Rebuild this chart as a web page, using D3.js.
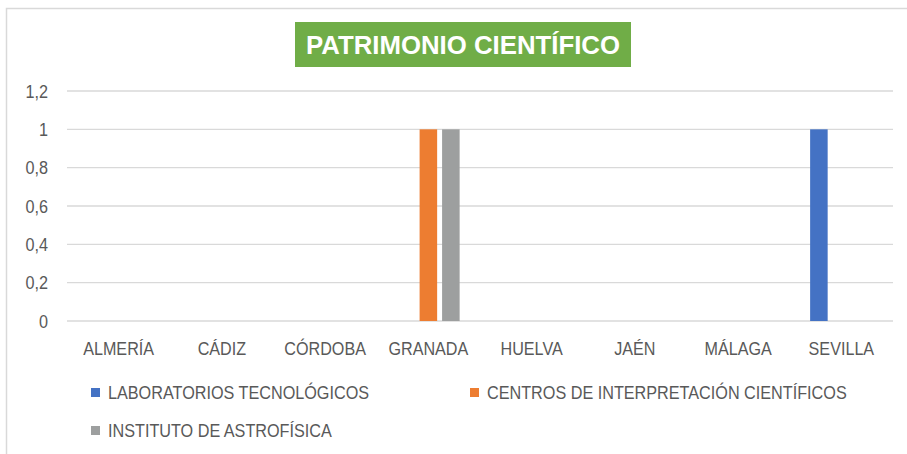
<!DOCTYPE html>
<html>
<head>
<meta charset="utf-8">
<script src="https://cdn.jsdelivr.net/npm/d3@7"></script>
<style>
  body { margin: 0; background: #fff; }
  svg { display: block; }
</style>
</head>
<body>
<svg id="chart"></svg>
<script>
// chart data
const title = "PATRIMONIO CIENTÍFICO";
const provincias = ["ALMERÍA", "CÁDIZ", "CÓRDOBA", "GRANADA", "HUELVA", "JAÉN", "MÁLAGA", "SEVILLA"];
const laboratorios = [0, 0, 0, 0, 0, 0, 0, 1];
const centros = [0, 0, 0, 1, 0, 0, 0, 0];
const instituto = [0, 0, 0, 1, 0, 0, 0, 0];
const seriesNames = ["LABORATORIOS TECNOLÓGICOS", "CENTROS DE INTERPRETACIÓN CIENTÍFICOS", "INSTITUTO DE ASTROFÍSICA"];
const seriesColors = ["#4472C4", "#ED7D31", "#9D9F9F"];
const yTicks = [0, 0.2, 0.4, 0.6, 0.8, 1, 1.2];

const W = 907, H = 454;
const margin = { top: 91, right: 14, bottom: 133, left: 67 };
const font = "'Liberation Sans', Arial, sans-serif";
const textColor = "#595959";

// squeeze text horizontally so it looks like the narrow Calibri of the original
function condense(sel, k) {
  sel.each(function() {
    const len = this.getComputedTextLength();
    d3.select(this).attr("textLength", len * k).attr("lengthAdjust", "spacingAndGlyphs");
  });
}

const svg = d3.select("#chart").attr("width", W).attr("height", H);

// outer frame
svg.append("rect")
    .attr("x", 6.5).attr("y", 8.5)
    .attr("width", W).attr("height", H)
    .attr("fill", "none")
    .attr("stroke", "#d9d9d9")
    .attr("stroke-width", 1.5);

// title box
const titleG = svg.append("g");
titleG.append("rect")
    .attr("x", 295).attr("y", 22)
    .attr("width", 336).attr("height", 45)
    .attr("fill", "#70AD47");
titleG.append("text")
    .attr("x", 463).attr("y", 54)
    .attr("text-anchor", "middle")
    .attr("font-family", font)
    .attr("font-weight", "bold")
    .attr("font-size", 25)
    .attr("textLength", 314)
    .attr("lengthAdjust", "spacingAndGlyphs")
    .attr("fill", "#fff")
    .text(title);

const x0 = d3.scaleBand()
    .domain(provincias)
    .range([margin.left, W - margin.right])
    .padding(0);

const x1 = d3.scaleBand()
    .domain(seriesNames)
    .range([0, 62.5])
    .paddingInner(0.22);

const y = d3.scaleLinear()
    .domain([0, 1.2])
    .range([H - margin.bottom, margin.top]);

// gridlines
svg.append("g")
    .selectAll("line")
    .data(yTicks)
    .join("line")
    .attr("x1", margin.left).attr("x2", W - margin.right)
    .attr("y1", d => y(d)).attr("y2", d => y(d))
    .attr("stroke", "#d9d9d9")
    .attr("stroke-width", 1.3);

// y tick labels
svg.append("g")
    .selectAll("text")
    .data(yTicks)
    .join("text")
    .attr("x", 48)
    .attr("y", d => y(d) + 6.5)
    .attr("text-anchor", "end")
    .attr("font-family", font)
    .attr("font-size", 18)
    .attr("fill", textColor)
    .text(d => d3.format(".1~f")(d).replace(".", ","))
    .call(condense, 0.9);

// bars
const seriesData = [laboratorios, centros, instituto];
const rows = provincias.map((p, i) => ({
  provincia: p,
  values: seriesNames.map((s, k) => ({ serie: s, k, value: seriesData[k][i] }))
}));

svg.append("g")
    .selectAll("g")
    .data(rows)
    .join("g")
    .attr("transform", d => `translate(${x0(d.provincia) + (x0.bandwidth() - 62.5) / 2},0)`)
    .selectAll("rect")
    .data(d => d.values.filter(v => v.value > 0))
    .join("rect")
    .attr("x", v => x1(v.serie))
    .attr("width", x1.bandwidth())
    .attr("y", v => y(v.value))
    .attr("height", v => y(0) - y(v.value))
    .attr("fill", v => seriesColors[v.k]);

// category labels
svg.append("g")
    .selectAll("text")
    .data(provincias)
    .join("text")
    .attr("x", d => x0(d) + x0.bandwidth() / 2)
    .attr("y", 355)
    .attr("text-anchor", "middle")
    .attr("font-family", font)
    .attr("font-size", 19)
    .attr("fill", textColor)
    .text(d => d)
    .call(condense, 0.85);

// legend
const legendPos = [[91, 388], [470, 388], [91, 426]];
const legend = svg.append("g")
    .selectAll("g")
    .data(seriesNames)
    .join("g")
    .attr("transform", (d, i) => `translate(${legendPos[i][0]},${legendPos[i][1]})`);
legend.append("rect")
    .attr("width", 9).attr("height", 9)
    .attr("fill", (d, i) => seriesColors[i]);
legend.append("text")
    .attr("x", 17).attr("y", 11)
    .attr("font-family", font)
    .attr("font-size", 18)
    .attr("fill", textColor)
    .text(d => d)
    .call(condense, 0.9);
</script>
</body>
</html>
